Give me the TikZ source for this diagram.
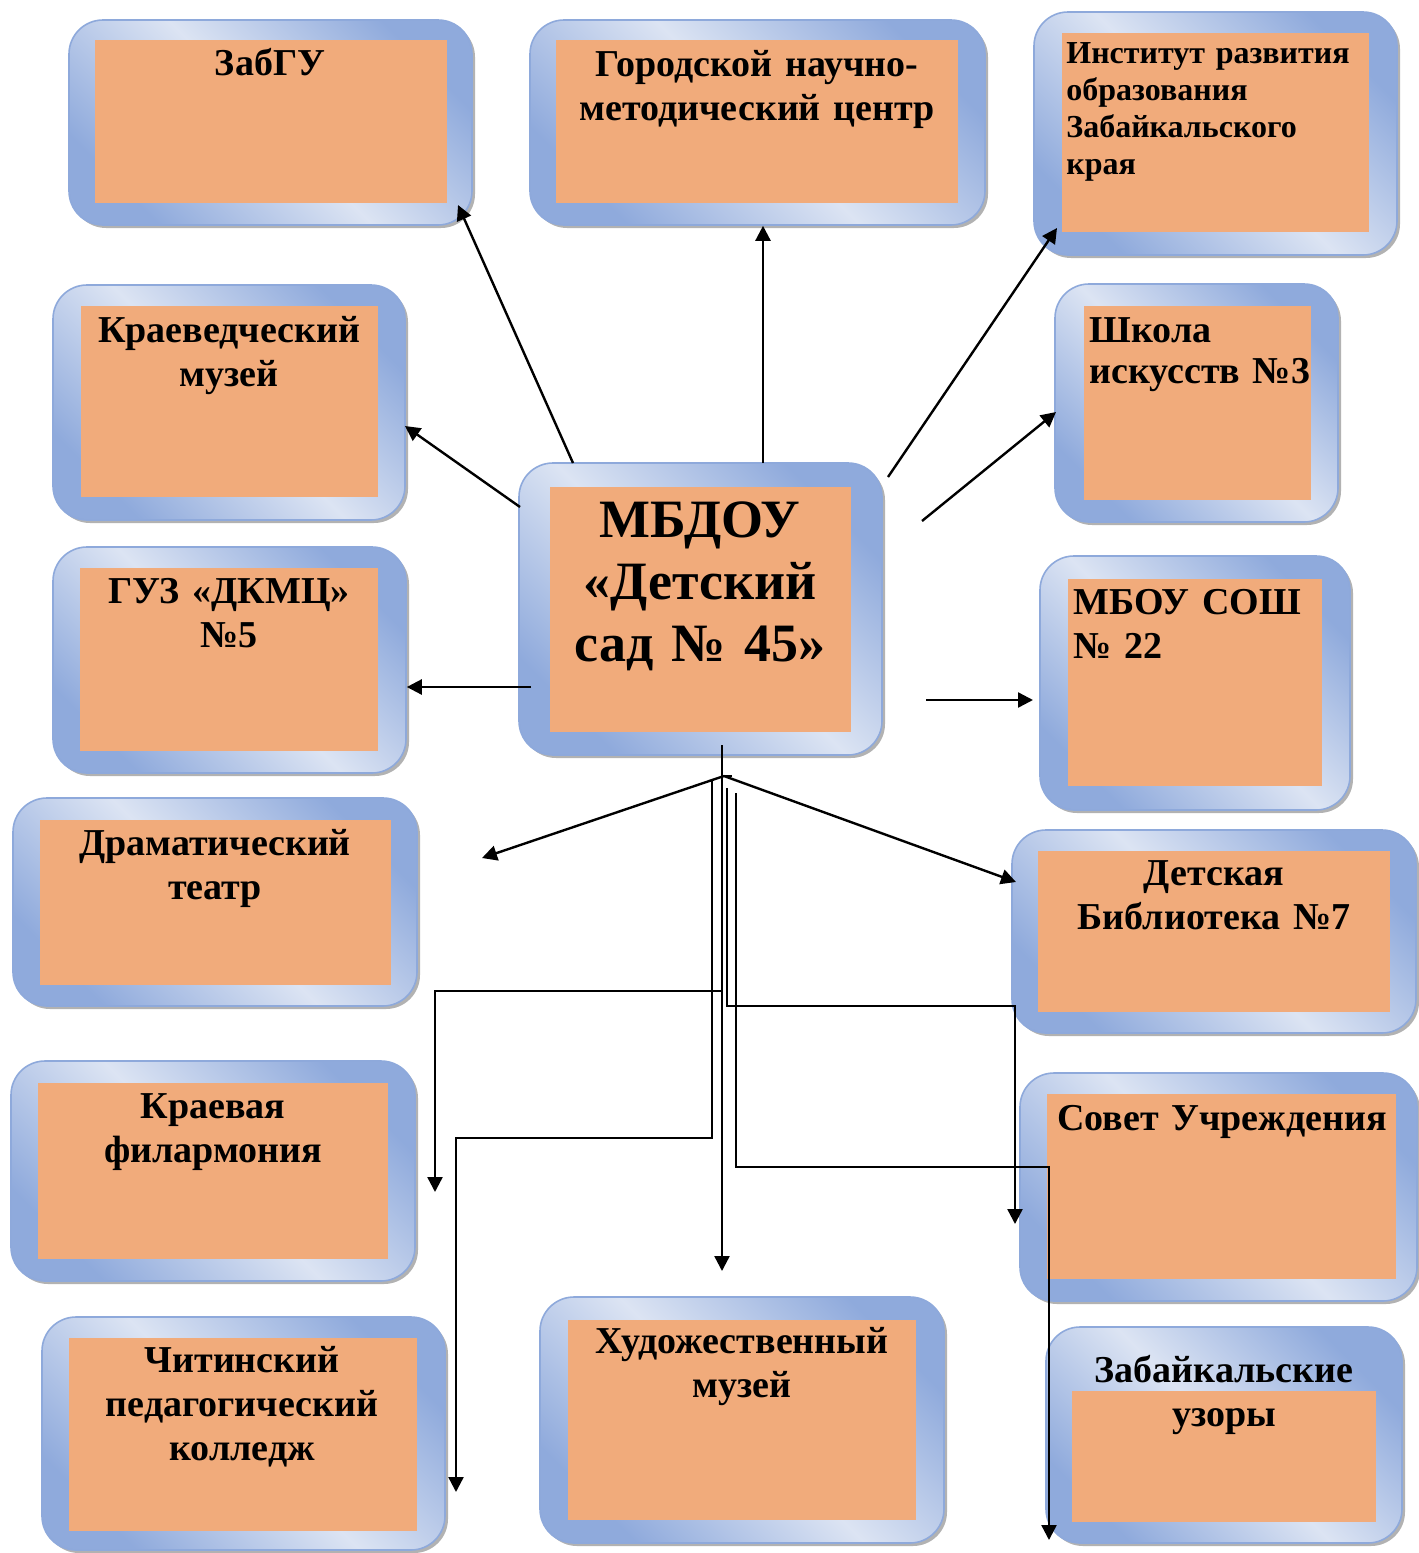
\documentclass[tikz,border=0pt]{standalone}
\usepackage{fontspec}
\setmainfont{Liberation Serif}
\usetikzlibrary{arrows.meta,fit,shadows,calc}
\definecolor{fdark}{HTML}{8FAADC}
\definecolor{flight}{HTML}{DCE4F3}
\definecolor{forange}{HTML}{F1AB7B}
\definecolor{fline}{HTML}{8EA9DB}
\pgfdeclarehorizontalshading{frameshade}{100bp}{color(0bp)=(fdark); color(25bp)=(fdark); color(50bp)=(flight); color(75bp)=(fdark); color(100bp)=(fdark)}
\tikzset{
  frame/.style={rounded corners=17pt, draw=fline, line width=0.8pt,
    shading=frameshade, shading angle=45,
    drop shadow={shadow xshift=1.5pt, shadow yshift=-1.5pt, fill=black!55, opacity=0.55},
    inner sep=0pt},
  inbox/.style={fill=forange, inner sep=0pt},
  lbl/.style={font=\bfseries\fontsize{19}{22}\selectfont, inner sep=0pt,
    text width=200pt, align=center, anchor=base},
  lbll/.style={font=\bfseries\fontsize{19}{22}\selectfont, inner sep=0pt,
    text width=200pt, align=left, anchor=base west},
  conn/.style={line width=1.2pt, -{Triangle[length=7.5pt,width=7.5pt]}},
  plain/.style={line width=1.2pt},
}
\newcommand\orgbox[9]{%
  \node[frame, fit={(#2,#3) (#4,#5)}] (#1) {};
  \node[inbox, fit={(#6,#7) (#8,#9)}] (#1-in) {};
}
\begin{document}
\begin{tikzpicture}[x=0.5pt,y=-0.5pt]
\useasboundingbox (0,0) rectangle (1419,1553);
% boxes
\orgbox{zab}{69}{20}{472}{225}{95}{40}{447}{203}
\orgbox{gor}{530}{20}{985}{225}{556}{40}{958}{203}
\orgbox{inst}{1034}{12}{1397}{255}{1062}{33}{1369}{232}
\orgbox{kraev}{53}{285}{405}{520}{81}{306}{378}{497}
\orgbox{shk}{1055}{284}{1338}{522}{1084}{306}{1311}{500}
\orgbox{mb}{519}{463}{882}{755}{550}{487}{851}{732}
\orgbox{guz}{53}{547}{406}{773}{80}{568}{378}{751}
\orgbox{sosh}{1040}{556}{1350}{810}{1068}{579}{1322}{786}
\orgbox{dram}{13}{798}{417}{1006}{40}{820}{391}{985}
\orgbox{bib}{1012}{830}{1416}{1033}{1038}{851}{1390}{1012}
\orgbox{fil}{11}{1061}{415}{1281}{38}{1083}{388}{1259}
\orgbox{sov}{1020}{1073}{1417}{1301}{1047}{1094}{1396}{1279}
\orgbox{chit}{42}{1317}{445}{1550}{69}{1338}{417}{1531}
\orgbox{hud}{540}{1297}{944}{1543}{568}{1320}{916}{1520}
\orgbox{uzor}{1046}{1327}{1402}{1543}{1072}{1391}{1376}{1522}
% texts
\node[lbl] (zab-t) at (270,75) {ЗабГУ};
\node[lbl] (gor-t) at (757,76) {Городской научно-\\методический центр};
\node[lbll, font=\bfseries\fontsize{16}{18.5}\selectfont] (inst-t) at (1066,63) {Институт развития\\образования\\Забайкальского\\края};
\node[lbl] (kraev-t) at (229,342) {Краеведческий\\музей};
\node[lbll, font=\bfseries\fontsize{19}{20.5}\selectfont] (shk-t) at (1089,342) {Школа\\искусств №3};
\node[lbl, font=\bfseries\fontsize{27}{31}\selectfont] (mb-t) at (700,537) {МБДОУ\\«Детский\\сад № 45»};
\node[lbl] (guz-t) at (229,603) {ГУЗ «ДКМЦ»\\№5};
\node[lbll] (sosh-t) at (1073,614) {МБОУ СОШ\\№ 22};
\node[lbl] (dram-t) at (215,855) {Драматический\\театр};
\node[lbl] (bib-t) at (1214,885) {Детская\\Библиотека №7};
\node[lbl] (fil-t) at (213,1118) {Краевая\\филармония};
\node[lbl] (sov-t) at (1222,1130) {Совет Учреждения};
\node[lbl] (chit-t) at (242,1372) {Читинский\\педагогический\\колледж};
\node[lbl] (hud-t) at (742,1353) {Художественный\\музей};
\node[lbl] (uzor-t) at (1224,1382) {Забайкальские\\узоры};
% connector end points
\coordinate (s1) at (573,463);  \coordinate (t1) at (458,205);
\coordinate (s2) at (763,463);
\coordinate (s3) at (888,477);  \coordinate (t3) at (1057,228);
\coordinate (s4) at (520,507);  \coordinate (t4) at (405,426);
\coordinate (s5) at (922,521);  \coordinate (t5) at (1056,412);
\coordinate (s6) at (531,687);
\coordinate (s7) at (926,700);  \coordinate (t7) at (1033,700);
\coordinate (trunk) at (722,745); \coordinate (t8) at (722,1271);
\coordinate (apex) at (724,776);
\coordinate (t9) at (482,858);  \coordinate (t10) at (1016,882);
\coordinate (b1) at (722,991);  \coordinate (t11) at (435,1192);
\coordinate (b2) at (712,781);  \coordinate (t12) at (456,1492);
\coordinate (b3) at (727,788);  \coordinate (t13) at (1015,1224);
\coordinate (b4) at (736,793);  \coordinate (t14) at (1049,1540);
% connectors
\draw[conn] (s1) -- (t1);
\draw[conn] (s2) -- (s2 |- gor.south);
\draw[conn] (s3) -- (t3);
\draw[conn] (s4) -- (t4);
\draw[conn] (s5) -- (t5);
\draw[conn] (s6) -- (s6 -| guz.east);
\draw[conn] (s7) -- (t7);
\draw[conn] (trunk) -- (t8);
\draw[plain] (apex) -- ++(8,0);
\draw[conn] (apex) -- (t9);
\draw[conn] (apex) -- (t10);
\draw[conn] (b1) -| (t11);
\draw[conn] (b2) |- ($(t12)+(0,-354)$) -- (t12);
\draw[conn] (b3) |- ($(t13)+(0,-218)$) -- (t13);
\draw[conn] (b4) |- ($(t14)+(0,-373)$) -- (t14);
\end{tikzpicture}
\end{document}
